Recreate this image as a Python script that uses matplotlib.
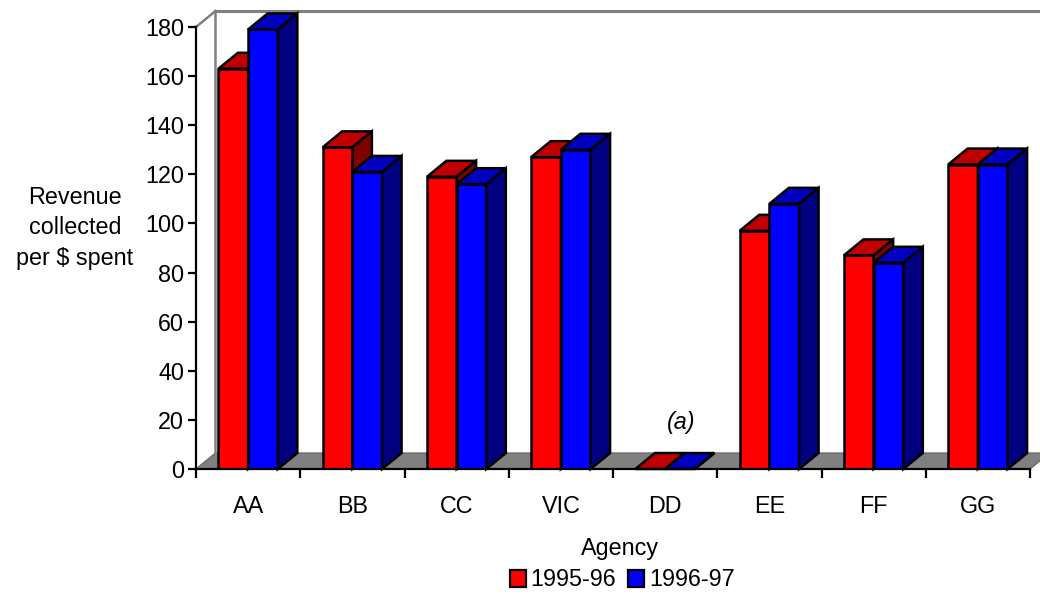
import matplotlib
matplotlib.use("Agg")
import matplotlib.pyplot as plt
from matplotlib.patches import Polygon
import numpy as np

plt.rcParams["font.family"] = ["Liberation Sans", "DejaVu Sans"]

agencies = ["AA", "BB", "CC", "VIC", "DD", "EE", "FF", "GG"]
rev_9596 = [163, 131, 119, 127, 0, 97, 87, 124]
rev_9697 = [179, 121, 116, 130, 0, 108, 84, 124]
years = ["1995-96", "1996-97"]

# front / top / side shades for each series
shades = [("#FF0000", "#C00000", "#800000"),
          ("#0000FF", "#0000C0", "#000080")]

bar_w = 0.285
dx, dy = 0.187, 6.5   # depth offset of the 3D box
fs = 16.8
elw = 1.8

fig = plt.figure(figsize=(10.4, 5.96), dpi=100)
ax = fig.add_axes([196 / 1040, 127 / 596, 834 / 1040, 442 / 596])
ax.set_xlim(0, 8)
ax.set_ylim(0, 180)

# back walls and floor
wall = "#808080"
ax.add_patch(Polygon([(0, 0), (8, 0), (8 + dx, dy), (dx, dy)], closed=True,
                     facecolor=wall, edgecolor="#6a6a6a", lw=1.0,
                     zorder=0.5, clip_on=False))
ax.plot([0, dx], [180, 180 + dy], color=wall, lw=1.8, clip_on=False, zorder=0.6)
ax.plot([dx, dx], [dy, 180 + dy], color=wall, lw=1.8, clip_on=False, zorder=0.6)
ax.plot([dx, 8.5], [180 + dy, 180 + dy], color=wall, lw=2.2, clip_on=False, zorder=0.6)

idx = np.arange(len(agencies))
series = [rev_9596, rev_9697]
lefts = [idx + 0.5 - bar_w, idx + 0.5]

z = 2.0
for i in range(len(agencies)):
    for s in range(2):
        front, top, side = shades[s]
        x0 = lefts[s][i]
        h = series[s][i]
        bars = ax.bar([x0], [h], width=bar_w, align="edge", color=front,
                      edgecolor="black", linewidth=elw, zorder=z)
        p = bars[0]
        x0, w, h = p.get_x(), p.get_width(), p.get_height()
        ax.add_patch(Polygon([(x0, h), (x0 + w, h), (x0 + w + dx, h + dy), (x0 + dx, h + dy)],
                             closed=True, facecolor=top, edgecolor="black", lw=elw,
                             zorder=z + 0.01, clip_on=False, joinstyle="miter"))
        ax.add_patch(Polygon([(x0 + w, 0), (x0 + w + dx, dy), (x0 + w + dx, h + dy), (x0 + w, h)],
                             closed=True, facecolor=side, edgecolor="black", lw=elw,
                             zorder=z + 0.02, clip_on=False, joinstyle="miter"))
        z += 0.1

ax.text(4.65, 19, "(a)", fontsize=fs, style="italic", ha="center", va="center")

# axes styling
for sp in ["top", "right"]:
    ax.spines[sp].set_visible(False)
for sp in ["left", "bottom"]:
    ax.spines[sp].set_linewidth(1.6)
    ax.spines[sp].set_zorder(10)

ax.set_yticks(np.arange(0, 181, 20))
ax.tick_params(axis="y", direction="out", length=5.5, width=1.6, labelsize=fs, pad=3)
ax.set_xticks(np.arange(0, 9))
ax.set_xticklabels([])
ax.set_xticks(idx + 0.5, minor=True)
ax.set_xticklabels(agencies, minor=True)
ax.tick_params(axis="x", which="major", direction="out", length=6.5, width=1.6)
ax.tick_params(axis="x", which="minor", length=0, labelsize=fs, pad=19)

fig.text(75 / 1040, 1 - 228 / 596, "Revenue\ncollected\nper $ spent", ha="center",
         va="center", fontsize=fs, linespacing=1.4)
fig.text(620 / 1040, 1 - 548 / 596, "Agency", ha="center", va="center", fontsize=fs)

handles = [plt.Rectangle((0, 0), 1, 1, facecolor=shades[k][0], edgecolor="black", lw=1.6)
           for k in range(2)]
fig.legend(handles, years, loc="center", bbox_to_anchor=(622 / 1040, 1 - 580 / 596),
           ncol=2, frameon=False, fontsize=fs, handlelength=0.7, handleheight=0.7,
           handletextpad=0.2, columnspacing=0.5, borderpad=0)

fig.savefig("out.png", dpi=100)
